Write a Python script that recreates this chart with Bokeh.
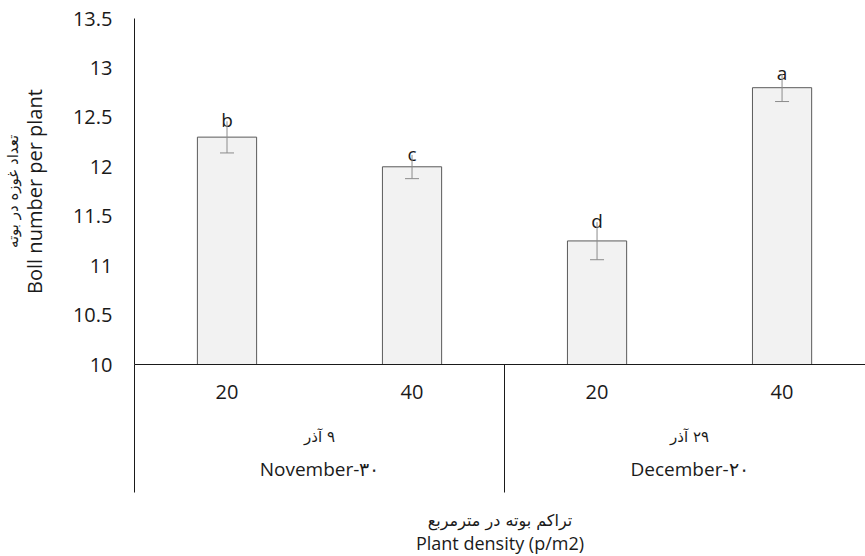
from bokeh.plotting import figure
from bokeh.models import (ColumnDataSource, FixedTicker, CustomJSTickFormatter,
                          Whisker, TeeHead, LinearAxis)
from bokeh.core.properties import value
from bokeh.embed import file_html
from bokeh.resources import INLINE

# ---- data ----
densities = ["20", "40", "20", "40"]
groups_fa = ["۹ آذر", "۲۹ آذر"]
groups_en = ["November-۳۰", "December-۲۰"]
boll_number = [12.3, 12.0, 11.25, 12.8]
error = [0.16, 0.12, 0.19, 0.14]
letters = ["b", "c", "d", "a"]
y_ticks = [10, 10.5, 11, 11.5, 12, 12.5, 13, 13.5]
y_title_en = "Boll number per plant"
y_title_fa = "تعداد غوزه در بوته"
x_title_en = "Plant density (p/m2)"
x_title_fa = "تراکم بوته در مترمربع"

FONT = "Open Sans"
FA_FONT = "DejaVu Sans"
TXT = "#1a1a1a"
X_END = 3.951
RLE, PDF = "\u202B", "\u202C"

n = len(boll_number)
xs = [i + 0.5 for i in range(n)]
group_x = [2 * g + 1 for g in range(len(groups_en))]
divider_x = [2 * g for g in range(len(groups_en))]

src = ColumnDataSource(dict(
    x=xs, top=boll_number,
    upper=[v + e for v, e in zip(boll_number, error)],
    lower=[v - e for v, e in zip(boll_number, error)],
    letter=letters,
))

p = figure(frame_width=731, frame_height=346, x_range=(0, X_END), y_range=(10, 13.5),
           output_backend="svg", toolbar_location=None, x_axis_location=None,
           min_border_left=134, min_border_right=0, min_border_top=18, min_border_bottom=0)
p.outline_line_color = None
p.grid.visible = False
p.background_fill_color = "white"
p.border_fill_color = "white"

# value axis
yax = p.yaxis[0]
yax.ticker = FixedTicker(ticks=y_ticks)
yax.formatter = CustomJSTickFormatter(code="return tick.toString();")
yax.major_tick_line_color = None
yax.minor_tick_line_color = None
yax.axis_line_color = TXT
yax.major_label_text_font = FONT
yax.major_label_text_font_size = "20px"
yax.major_label_text_color = TXT
yax.major_label_standoff = 16


def title_axis(side, text, font, size, standoff):
    ax = LinearAxis(axis_label=text, ticker=FixedTicker(ticks=[]),
                    axis_line_color=None, major_tick_line_color=None,
                    minor_tick_line_color=None, major_label_text_font_size="0px",
                    axis_label_text_font=font, axis_label_text_font_size=size,
                    axis_label_text_font_style="normal", axis_label_text_color=TXT,
                    axis_label_standoff=standoff)
    p.add_layout(ax, side)
    return ax


def label_axis(ticks, labels, font, size, standoff, **kw):
    ax = LinearAxis(ticker=FixedTicker(ticks=ticks),
                    formatter=CustomJSTickFormatter(args=dict(labels=labels),
                                                    code="return labels[index];"),
                    axis_line_color=None, major_tick_line_color=None,
                    minor_tick_line_color=None,
                    major_label_text_font=font, major_label_text_font_size=size,
                    major_label_text_color=TXT, major_label_standoff=standoff, **kw)
    p.add_layout(ax, "below")
    return ax


# y titles (left, stacked outward)
title_axis("left", y_title_en, FONT, "20px", 22)
title_axis("left", y_title_fa, FA_FONT, "15px", -4)

# category axis: density labels + group dividers as long minor ticks (drawn outward)
cat = label_axis(xs, densities, FONT, "20px", 14)
cat.ticker = FixedTicker(ticks=xs, minor_ticks=divider_x)
cat.axis_line_color = TXT
cat.minor_tick_line_color = TXT
cat.minor_tick_in = -128
cat.minor_tick_out = 0

# Persian group labels shown right-to-left (digits on the right)
label_axis(group_x, [RLE + g + PDF for g in groups_fa], FA_FONT, "15px", 20)
label_axis(group_x, groups_en, FONT, "19px", 1,
           axis_label=x_title_fa, axis_label_text_font=FA_FONT,
           axis_label_text_font_size="16px", axis_label_text_font_style="normal",
           axis_label_text_color=TXT, axis_label_standoff=26)
title_axis("below", x_title_en, FONT, "18px", -2)

# bars
p.vbar(x="x", top="top", bottom=10, width=0.32, source=src,
       fill_color="#f2f2f2", line_color="#5a5a5a", line_width=1)

# error bars (cap only at the lower end; letter sits on the upper end)
p.add_layout(Whisker(source=src, base="x", upper="upper", lower="lower",
                     line_color="#8c8c8c", line_width=1, level="overlay",
                     upper_head=None,
                     lower_head=TeeHead(size=14, line_color="#8c8c8c", line_width=1)))

# significance letters
p.text(x="x", y="upper", text="letter", source=src, text_align="center",
       text_baseline="alphabetic", text_font=value(FONT), text_font_size="19px",
       text_color=TXT, y_offset=-1)

open("out.html", "w").write(file_html(p, INLINE))
